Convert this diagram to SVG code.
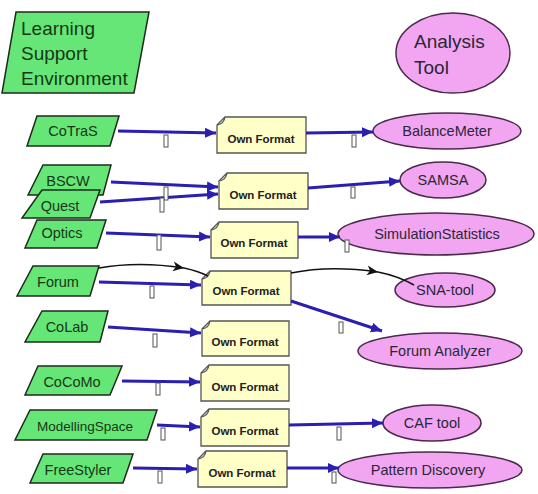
<svg xmlns="http://www.w3.org/2000/svg" width="538" height="494" viewBox="0 0 538 494">
<style>
.env{fill:#66e676;stroke:#1e2a1e;stroke-width:1.5}
.envt{font-family:"Liberation Sans",Arial,sans-serif;font-size:14.5px;fill:#163816;text-anchor:middle}
.big{font-family:"Liberation Sans",Arial,sans-serif;font-size:19px}
.tool{fill:#f2a6f2;stroke:#4a2a4a;stroke-width:1.5}
.toolt{font-family:"Liberation Sans",Arial,sans-serif;font-size:14.5px;fill:#2a2636;text-anchor:middle}
.fmt{fill:#ffffc8;stroke:#555;stroke-width:1.3}
.fmtt{font-family:"Liberation Sans",Arial,sans-serif;font-size:11.5px;font-weight:bold;fill:#222;text-anchor:middle}
.blue{stroke:#2a1fb0;stroke-width:3;fill:none;marker-end:url(#ah)}
.blk{stroke:#111;stroke-width:1.5;fill:none}
.tick{fill:#fff;stroke:#555;stroke-width:1}
</style>
<defs>
<marker id="ah" markerUnits="userSpaceOnUse" markerWidth="12" markerHeight="12" refX="11" refY="5" orient="auto" viewBox="0 0 12 10">
<path d="M0,0 L11,5 L0,10 z" fill="#2a1fb0"/>
</marker>
<marker id="bh" markerUnits="userSpaceOnUse" markerWidth="12" markerHeight="12" refX="11" refY="5" orient="auto" viewBox="0 0 12 10">
<path d="M0,0 L11,5 L0,10 L3,5 z" fill="#111"/>
</marker>
</defs>
<rect width="538" height="494" fill="#fff"/>

<g id="lse">
<polygon class="env" points="16,12 149,12 134,93 2,93"/>
<text class="big" fill="#163816" x="21" y="35">Learning</text>
<text class="big" fill="#163816" x="21" y="60">Support</text>
<text class="big" fill="#163816" x="21" y="85">Environment</text>
</g>
<g id="analysis-tool">
<ellipse class="tool" cx="453" cy="53" rx="57" ry="40"/>
<text class="big" fill="#2a2636" x="414" y="48">Analysis</text>
<text class="big" fill="#2a2636" x="414" y="74">Tool</text>
</g>

<g id="cotras"><polygon class="env" points="37,116 119,116 110,146 27,146"/><text class="envt" x="73" y="136">CoTraS</text></g>
<g id="bscw"><polygon class="env" points="43,165 111,165 103,195 28,195"/><text class="envt" x="68" y="186">BSCW</text></g>
<g id="quest"><polygon class="env" points="42,190 100,190 90,218 22,218"/><text class="envt" x="60" y="211">Quest</text></g>
<g id="optics"><polygon class="env" points="37,220 106,220 97,248 25,248"/><text class="envt" x="62" y="238">Optics</text></g>
<g id="forum"><polygon class="env" points="33,266 99,266 90,296 17,296"/><text class="envt" x="58" y="287">Forum</text></g>
<g id="colab"><polygon class="env" points="42,311 108,311 100,342 25,342"/><text class="envt" x="67" y="332">CoLab</text></g>
<g id="cocomo"><polygon class="env" points="38,366 122,366 110,395 25,395"/><text class="envt" x="72" y="387">CoCoMo</text></g>
<g id="modellingspace"><polygon class="env" points="30,410 157,410 147,440 15,440"/><text class="envt" x="85" y="431" style="font-size:13.5px">ModellingSpace</text></g>
<g id="freestyler"><polygon class="env" points="43,454 133,454 123,483 30,483"/><text class="envt" x="78" y="475">FreeStyler</text></g>

<g id="of1"><path class="fmt" d="M225,117 H306 V153 H217 V125 Z M217,125 Q224,124 225,117"/><text class="fmtt" x="261" y="143">Own Format</text></g>
<g id="of2"><path class="fmt" d="M227,173 H308 V209 H219 V181 Z M219,181 Q226,180 227,173"/><text class="fmtt" x="263" y="199">Own Format</text></g>
<g id="of3"><path class="fmt" d="M219,222 H298 V258 H211 V230 Z M211,230 Q218,229 219,222"/><text class="fmtt" x="254" y="247">Own Format</text></g>
<g id="of4"><path class="fmt" d="M210,271 H291 V305 H202 V279 Z M202,279 Q209,278 210,271"/><text class="fmtt" x="246" y="295">Own Format</text></g>
<g id="of5"><path class="fmt" d="M210,321 H289 V356 H202 V329 Z M202,329 Q209,328 210,321"/><text class="fmtt" x="245" y="346">Own Format</text></g>
<g id="of6"><path class="fmt" d="M209,365 H289 V401 H201 V373 Z M201,373 Q208,372 209,365"/><text class="fmtt" x="245" y="391">Own Format</text></g>
<g id="of7"><path class="fmt" d="M209,409 H289 V446 H201 V417 Z M201,417 Q208,416 209,409"/><text class="fmtt" x="245" y="435">Own Format</text></g>
<g id="of8"><path class="fmt" d="M206,451 H287 V487 H198 V459 Z M198,459 Q205,458 206,451"/><text class="fmtt" x="242" y="477">Own Format</text></g>

<g id="balancemeter"><ellipse class="tool" cx="447" cy="131" rx="74" ry="18"/><text class="toolt" x="447" y="136">BalanceMeter</text></g>
<g id="samsa"><ellipse class="tool" cx="443" cy="180" rx="43" ry="18"/><text class="toolt" x="443" y="185">SAMSA</text></g>
<g id="simulationstatistics"><ellipse class="tool" cx="436" cy="234" rx="98" ry="21"/><text class="toolt" x="437" y="239">SimulationStatistics</text></g>
<g id="sna-tool"><ellipse class="tool" cx="445" cy="290" rx="50" ry="17"/><text class="toolt" x="445" y="295">SNA-tool</text></g>
<g id="forum-analyzer"><ellipse class="tool" cx="440" cy="351" rx="82" ry="18"/><text class="toolt" x="440" y="356">Forum Analyzer</text></g>
<g id="caf-tool"><ellipse class="tool" cx="432" cy="423" rx="49" ry="18"/><text class="toolt" x="432" y="428">CAF tool</text></g>
<g id="pattern-discovery"><ellipse class="tool" cx="430" cy="470" rx="92" ry="18"/><text class="toolt" x="428" y="475">Pattern Discovery</text></g>

<g id="connectors">
<line class="blue" x1="118" y1="131" x2="216" y2="133"/>
<line class="blue" x1="306" y1="133" x2="373" y2="132"/>
<line class="blue" x1="111" y1="182" x2="218" y2="187"/>
<line class="blue" x1="100" y1="202" x2="218" y2="194"/>
<line class="blue" x1="308" y1="188" x2="400" y2="181"/>
<line class="blue" x1="106" y1="233" x2="210" y2="237"/>
<line class="blue" x1="298" y1="237" x2="340" y2="237"/>
<line class="blue" x1="99" y1="282" x2="201" y2="285"/>
<line class="blue" x1="291" y1="301" x2="382" y2="331"/>
<line class="blue" x1="108" y1="327" x2="201" y2="333"/>
<line class="blue" x1="122" y1="381" x2="200" y2="382"/>
<line class="blue" x1="157" y1="425" x2="200" y2="427"/>
<line class="blue" x1="289" y1="425" x2="383" y2="423"/>
<line class="blue" x1="133" y1="468" x2="197" y2="469"/>
<line class="blue" x1="287" y1="468" x2="339" y2="468"/>
<path class="blk" marker-end="url(#bh)" d="M99,268 Q138,261 184,268"/>
<path class="blk" d="M184,268 Q198,271 208,276"/>
<path class="blk" marker-end="url(#bh)" d="M291,273 Q330,265 378,272"/>
<path class="blk" d="M378,272 Q398,276 414,285"/>
<rect class="tick" x="164" y="135" width="4" height="12"/>
<rect class="tick" x="352" y="135" width="4" height="12"/>
<rect class="tick" x="164" y="187" width="4" height="13"/>
<rect class="tick" x="160" y="198" width="4" height="14"/>
<rect class="tick" x="351" y="187" width="4" height="11"/>
<rect class="tick" x="157" y="235" width="4" height="15"/>
<rect class="tick" x="345" y="240" width="4" height="12"/>
<rect class="tick" x="150" y="286" width="4" height="12"/>
<rect class="tick" x="339" y="322" width="4" height="11"/>
<rect class="tick" x="153" y="334" width="4" height="13"/>
<rect class="tick" x="156" y="383" width="4" height="12"/>
<rect class="tick" x="161" y="428" width="4" height="12"/>
<rect class="tick" x="337" y="427" width="4" height="13"/>
<rect class="tick" x="158" y="471" width="4" height="12"/>
<rect class="tick" x="332" y="472" width="4" height="11"/>
</g>
</svg>
